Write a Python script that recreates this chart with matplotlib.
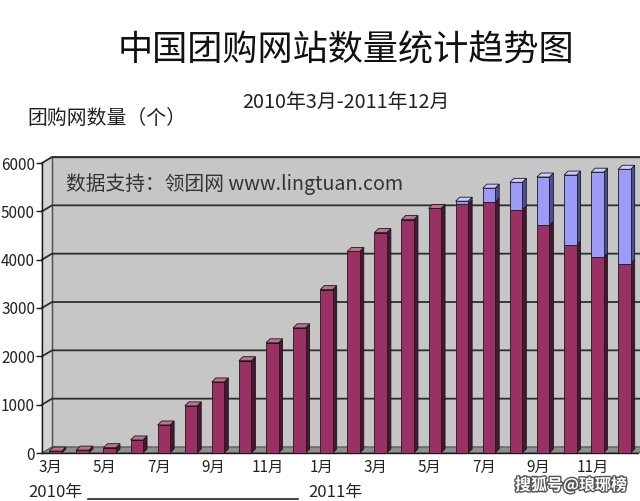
import matplotlib
matplotlib.use("Agg")
import matplotlib.pyplot as plt
from matplotlib.patches import Polygon
from matplotlib.lines import Line2D
from matplotlib.transforms import IdentityTransform
import matplotlib.patheffects as pe

plt.rcParams['font.family'] = ['Noto Sans CJK SC', 'DejaVu Sans']

# ---------------- data ----------------
months = ['3月', '4月', '5月', '6月', '7月', '8月', '9月', '10月', '11月', '12月',
          '1月', '2月', '3月', '4月', '5月', '6月', '7月', '8月', '9月', '10月', '11月', '12月']
operating = [40, 60, 110, 270, 580, 975, 1470, 1910, 2280, 2590,
             3380, 4170, 4560, 4830, 5060, 5150, 5190, 5030, 4710, 4300, 4050, 3920]
closed = [0, 0, 0, 0, 0, 0, 0, 0, 0, 0,
          0, 0, 0, 0, 0, 60, 290, 570, 1000, 1450, 1760, 1950]
yticks = [0, 1000, 2000, 3000, 4000, 5000, 6000]
ytick_labels = ['0', '1000', '2000', '3000', '4000', '5000', '6000']
year_labels = ['2010年', '2011年']

title = '中国团购网站数量统计趋势图'
subtitle = '2010年3月-2011年12月'
ylabel = '团购网数量（个）'
source = '数据支持：领团网 www.lingtuan.com'
watermark = '搜狐号@琅琊榜'

# ---------------- style ----------------
W, H = 640, 501
red_front, red_side, red_top = '#9b3064', '#4a1530', '#c0708f'
blue_front, blue_side, blue_top = '#9c9cf8', '#4d4d99', '#ccccff'
edge = '#1a1a1a'
back_wall = '#c6c6c6'
side_wall = '#d3d3d3'
floor_col = '#8f8f8f'
grid_col = '#2e2e2e'
DX, DY = 10, 6      # wall depth (px)
bx, by = 4, 4       # bar depth (px)

fig = plt.figure(figsize=(W / 100, H / 100), dpi=100)
fig.patch.set_facecolor('white')
ax = fig.add_axes([42 / W, 48 / H, 596 / W, 290 / H])
ax.set_xlim(-0.5, len(months) - 0.5)
ax.set_ylim(0, 6000)
ax.patch.set_visible(False)
for s in ['top', 'right']:
    ax.spines[s].set_visible(False)
ax.spines['left'].set_color(edge)
ax.spines['bottom'].set_color(edge)
ax.spines['left'].set_linewidth(1.0)
ax.spines['bottom'].set_linewidth(1.0)

T = ax.transData
I = IdentityTransform()


def P(x, y, ox=0, oy=0):
    px, py = T.transform((x, y))
    return (px + ox, py + oy)


xl, xr = -0.5, len(months) - 0.5
# back wall
bw = Polygon([P(xl, 0, DX, DY), P(xr, 0, DX + 20, DY), P(xr, 6000, DX + 20, DY), P(xl, 6000, DX, DY)],
             closed=True, transform=I, facecolor=back_wall, edgecolor=grid_col, lw=1.0,
             zorder=0, clip_on=False)
ax.add_patch(bw)
# side wall
sw = Polygon([P(xl, 0), P(xl, 0, DX, DY), P(xl, 6000, DX, DY), P(xl, 6000)],
             closed=True, transform=I, facecolor=side_wall, edgecolor='#888888', lw=0.6,
             zorder=0.2, clip_on=False)
ax.add_patch(sw)
# floor
fl = Polygon([P(xl, 0), P(xr, 0), P(xr, 0, DX, DY), P(xl, 0, DX, DY)],
             closed=True, transform=I, facecolor=floor_col, edgecolor='#555555', lw=0.8,
             zorder=0.6, clip_on=False)
ax.add_patch(fl)
# gridlines on the back wall (with diagonal on the side wall)
for v in yticks[1:]:
    a = P(xl, v)
    b = P(xl, v, DX, DY)
    c = P(xr, v, DX + 20, DY)
    ax.add_line(Line2D([a[0], b[0], c[0]], [a[1], b[1], c[1]], transform=I,
                       color=grid_col, lw=1.3, zorder=0.5, clip_on=False))

# ---------------- bars ----------------
x = list(range(len(months)))
width = 0.46
red = ax.bar(x, operating, width=width, color=red_front, edgecolor=edge, lw=0.6, zorder=3)
blue = ax.bar(x, closed, bottom=operating, width=width, color=blue_front,
              edgecolor=edge, lw=0.6, zorder=3)


def faces(rect, side_c, top_c, draw_top):
    x0, y0 = rect.get_x(), rect.get_y()
    w, h = rect.get_width(), rect.get_height()
    if h <= 0:
        return
    rb = P(x0 + w, y0)
    rt = P(x0 + w, y0 + h)
    lt = P(x0, y0 + h)
    side = Polygon([rb, (rb[0] + bx, rb[1] + by), (rt[0] + bx, rt[1] + by), rt],
                   closed=True, transform=I, facecolor=side_c, edgecolor=edge, lw=0.6,
                   zorder=2.9, clip_on=False)
    ax.add_patch(side)
    if draw_top:
        top = Polygon([lt, (lt[0] + bx, lt[1] + by), (rt[0] + bx, rt[1] + by), rt],
                      closed=True, transform=I, facecolor=top_c, edgecolor=edge, lw=0.6,
                      zorder=3.1, clip_on=False)
        ax.add_patch(top)


for r, b in zip(red, blue):
    has_blue = b.get_height() > 0
    faces(r, red_side, red_top, not has_blue)
    faces(b, blue_side, blue_top, True)

# ---------------- ticks ----------------
ax.set_yticks(yticks)
ax.set_yticklabels(ytick_labels, fontsize=11, color='#222222')
ax.tick_params(axis='y', length=4, width=1, color=edge, pad=1)
xt = [i - 0.18 for i in x[::2]]
ax.set_xticks(xt)
ax.set_xticklabels(months[::2], fontsize=11, color='#222222')
ax.tick_params(axis='x', length=0, pad=4)

# ---------------- texts ----------------
fig.text(346 / W, 1 - 50 / H, title, ha='center', va='center', fontsize=25.3, color='#111111')
fig.text(346 / W, 1 - 103 / H, subtitle, ha='center', va='center', fontsize=14.3, color='#222222')
fig.text(27 / W, 1 - 118 / H, ylabel, ha='left', va='center', fontsize=14.3, color='#222222')
fig.text(66 / W, 1 - 184 / H, source, ha='left', va='center', fontsize=14.2, color='#333333',
         zorder=5)
fig.text(28 / W, 1 - 492 / H, year_labels[0], ha='left', va='center', fontsize=12, color='#222222')
fig.text(308 / W, 1 - 492 / H, year_labels[1], ha='left', va='center', fontsize=12, color='#222222')
fig.add_artist(Line2D([88 / W, 298 / W], [1 - 499 / H, 1 - 499 / H], transform=fig.transFigure,
                      color='#222222', lw=1.2))
fig.text(571 / W, 1 - 485 / H, watermark, ha='center', va='center', fontsize=11.5, color='white',
         fontweight='bold',
         path_effects=[pe.withStroke(linewidth=2, foreground='#555555')])

fig.savefig('out.png', dpi=100)
